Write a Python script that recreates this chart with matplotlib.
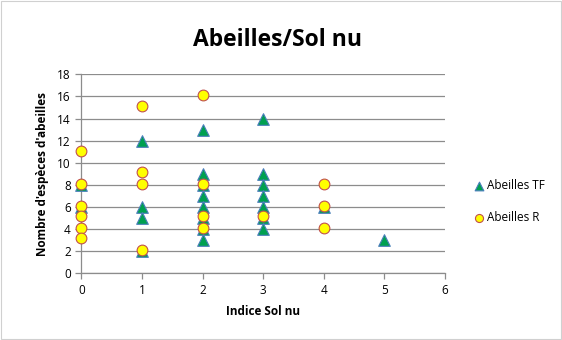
import matplotlib
matplotlib.use("Agg")
import matplotlib.pyplot as plt

# Bees per bare-soil index
tf_x = [0, 0, 1, 1, 1, 1, 2, 2, 2, 2, 2, 2, 2, 2, 3, 3, 3, 3, 3, 3, 3, 4, 5]
tf_y = [8, 6, 12, 6, 5, 2, 13, 9, 8, 7, 6, 5, 4, 3, 14, 9, 8, 7, 6, 5, 4, 6, 3]

r_x = [0, 0, 0, 0, 0, 0, 1, 1, 1, 1, 2, 2, 2, 2, 3, 4, 4, 4]
r_y = [11.1, 8.1, 6.1, 5.2, 4.1, 3.2, 15.1, 9.2, 8.1, 2.1, 16.1, 8.1, 5.2, 4.1, 5.2, 8.1, 6.1, 4.1]

title = "Abeilles/Sol nu"
xlabel = "Indice Sol nu"
ylabel = "Nombre d'espèces d'abeilles"
labels = ["Abeilles TF", "Abeilles R"]

plt.rcParams["font.family"] = ["Open Sans", "DejaVu Sans"]

fig = plt.figure(figsize=(5.62, 3.40), dpi=100)
fig.patch.set_facecolor("white")
# chart-area border
fig.add_artist(plt.Rectangle((0.002, 0.003), 0.996, 0.994, transform=fig.transFigure,
                             fill=False, edgecolor="#d0d0d0", linewidth=0.8))

ax = fig.add_axes([0.1447, 0.196, 0.6473, 0.5855])
ax.scatter(tf_x, tf_y, marker="^", s=70, facecolor="#00a050", edgecolor="#4a7ebb",
           linewidth=0.8, zorder=3, label=labels[0], clip_on=False)
ax.scatter(r_x, r_y, marker="o", s=60, facecolor="#ffff00", edgecolor="#c0504d",
           linewidth=0.8, zorder=4, label=labels[1], clip_on=False)

ax.set_xlim(0, 6)
ax.set_ylim(0, 18)
ax.set_xticks(range(0, 7))
ax.set_yticks(range(0, 19, 2))
ax.grid(axis="y", color="#8c8c8c", linewidth=0.9)
ax.set_axisbelow(True)
for s in ["top", "right"]:
    ax.spines[s].set_visible(False)
for s in ["left", "bottom"]:
    ax.spines[s].set_color("#8c8c8c")
    ax.spines[s].set_linewidth(0.9)
ax.tick_params(axis="both", colors="#8c8c8c", labelcolor="black", labelsize=8.5,
               length=4, width=0.9, direction="out")
ax.set_xlabel(xlabel, fontsize=8.5, fontweight="bold", labelpad=6)
ax.set_ylabel(ylabel, fontsize=8.5, fontweight="bold", labelpad=6)

fig.text(0.493, 0.882, title, ha="center", va="center", fontsize=16.5, fontweight="bold")

leg = ax.legend(loc="center left", bbox_to_anchor=(1.06, 0.36), frameon=False,
                fontsize=8.5, handletextpad=0.1, labelspacing=1.6, borderaxespad=0,
                handlelength=1.2, scatterpoints=1, markerscale=0.75)

fig.savefig("out.png", dpi=100)
